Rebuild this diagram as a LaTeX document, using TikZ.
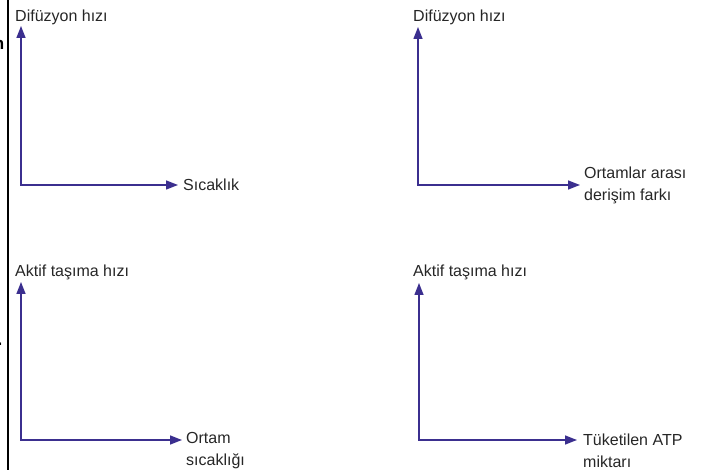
\documentclass[tikz,border=0pt]{standalone}
\usepackage{fontspec}
\setmainfont{Liberation Sans}
\usetikzlibrary{arrows.meta,positioning}
\definecolor{axisblue}{HTML}{3B2F8F}
\definecolor{labgray}{HTML}{262626}
\begin{document}
\begin{tikzpicture}[x=1pt, y=-1pt,
		axis/.style={draw=axisblue, line width=1.4pt, {Triangle[length=12pt,width=9pt]}-{Triangle[length=12pt,width=9pt]}},
		lab/.style={inner sep=0pt, anchor=west, text=labgray, align=left, font=\fontsize{16}{22}\selectfont},
		frag/.style={inner sep=0pt, anchor=base east, font=\fontsize{17}{17}\selectfont\rmfamily\bfseries}]
		\useasboundingbox (0,0) rectangle (702,470);
		% left rule and cut-off text of the page beside
		\draw[black, line width=2pt] (8,0) -- (8,470);
		\node[frag] (cutn) at (4.5,50) {n};
		\node[frag] (cutdot) at (2.5,346) {.};
		% panel 1
		\coordinate (ya) at (21,26);
		\coordinate (xa) at (178,185);
		\draw[axis] (ya) |- (xa);
		\node[lab] (yla) at (15,17) {Difüzyon hızı};
		\node[lab, right=5pt of xa] (xla) {Sıcaklık};
		% panel 2
		\coordinate (yb) at (418,27);
		\coordinate (xb) at (580,185);
		\draw[axis] (yb) |- (xb);
		\node[lab] (ylb) at (413,17) {Difüzyon hızı};
		\node[lab, right=4pt of xb] (xlb) {Ortamlar arası\\derişim farkı};
		% panel 3
		\coordinate (yc) at (21,282);
		\coordinate (xc) at (182,440);
		\draw[axis] (yc) |- (xc);
		\node[lab] (ylc) at (15,272) {Aktif taşıma hızı};
		\node[lab, right=4pt of xc, yshift=-11pt] (xlc) {Ortam\\sıcaklığı};
		% panel 4
		\coordinate (yd) at (419,283);
		\coordinate (xd) at (577,440);
		\draw[axis] (yd) |- (xd);
		\node[lab] (yld) at (413,272) {Aktif taşıma hızı};
		\node[lab, right=6pt of xd, yshift=-11pt] (xld) {Tüketilen ATP\\miktarı};
	\end{tikzpicture}
\end{document}
